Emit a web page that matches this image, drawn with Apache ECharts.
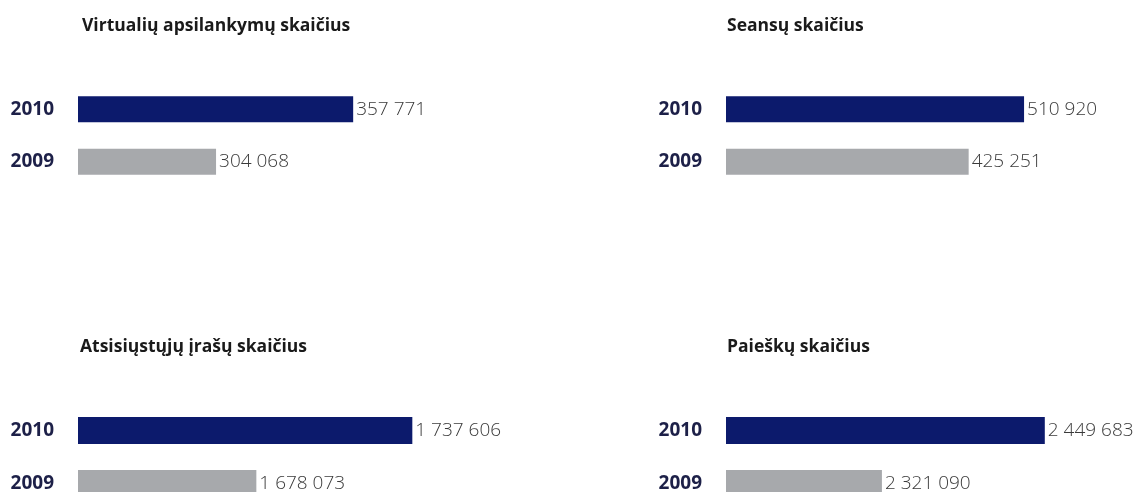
<!DOCTYPE html>
<html>
<head>
<meta charset="utf-8">
<script src="https://cdn.jsdelivr.net/npm/echarts@6/dist/echarts.min.js"></script>
<style>
  html, body { margin: 0; padding: 0; background: #fff; }
  #chart { width: 1136px; height: 492px; }
</style>
</head>
<body>
<div id="chart"></div>
<script>
// duomenys
const years = ['2010', '2009']
const titles = ['Virtualių apsilankymų skaičius', 'Seansų skaičius', 'Atsisiųstųjų įrašų skaičius', 'Paieškų skaičius']
const visits = [357771, 304068]
const sessions = [510920, 425251]
const downloads = [1737606, 1678073]
const searches = [2449683, 2321090]
// ašių ribos (bars start from a cut-off value, not zero)
const axisMin = [250000, 50000, 1610000, 2198000]
const axisMax = [400000, 650000, 1760000, 2498000]

const panelValues = [visits, sessions, downloads, searches]
const barColors = ['#0c1a6c', '#a7a9ac']

// "1737606" -> "1 737 606"
const fmt = v => String(v).replace(/\B(?=(\d{3})+(?!\d))/g, ' ')

const grids = [
    { left: 78, top: 83, width: 383, height: 105 },
    { left: 726, top: 83, width: 388, height: 105 },
    { left: 78, top: 404, width: 393, height: 106 },
    { left: 726, top: 404, width: 380, height: 106 }
]
const titlePos = [
    { left: 82, top: 17 },
    { left: 727, top: 17 },
    { left: 80, top: 338 },
    { left: 727, top: 338 }
]

const myChart = echarts.init(document.getElementById('chart'))
myChart.setOption({
    animation: false,
    title: titles.map((t, i) => ({
        text: t,
        left: titlePos[i].left,
        top: titlePos[i].top,
        padding: 0,
        textStyle: {
            fontFamily: 'Open Sans',
            fontWeight: 700,
            fontSize: 17.5,
            color: '#1a1a1a'
        }
    })),
    // outerBoundsMode none: bottom grids may run past the canvas edge
    grid: grids.map(g => Object.assign({ outerBoundsMode: 'none', containLabel: false }, g)),
    xAxis: grids.map((g, i) => ({
        type: 'value',
        gridIndex: i,
        min: axisMin[i],
        max: axisMax[i],
        show: false
    })),
    yAxis: grids.map((g, i) => ({
        type: 'category',
        gridIndex: i,
        data: years,
        inverse: true,
        axisLine: { show: false },
        axisTick: { show: false },
        splitLine: { show: false },
        axisLabel: {
            margin: 24,
            fontFamily: 'Open Sans',
            fontWeight: 700,
            fontSize: 19,
            color: '#1d2048'
        }
    })),
    series: panelValues.map((vals, i) => ({
        type: 'bar',
        xAxisIndex: i,
        yAxisIndex: i,
        barWidth: i < 2 ? 26 : 27,
        data: vals.map((v, j) => ({ value: v, itemStyle: { color: barColors[j] } })),
        label: {
            show: true,
            position: 'right',
            distance: 3,
            formatter: p => fmt(p.value),
            fontFamily: 'Open Sans',
            fontWeight: 300,
            fontSize: 19,
            color: '#3a3a3a'
        }
    }))
})
</script>
</body>
</html>
